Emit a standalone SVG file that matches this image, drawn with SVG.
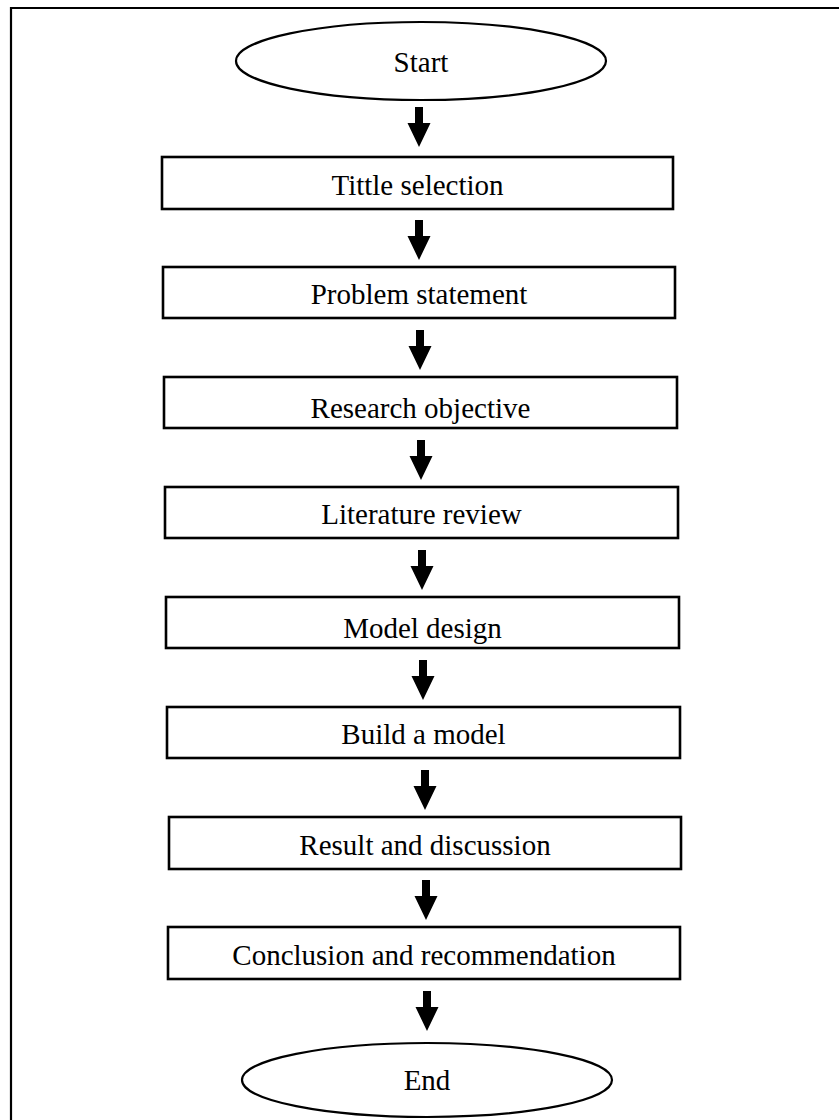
<svg xmlns="http://www.w3.org/2000/svg" width="839" height="1120" viewBox="0 0 839 1120">
<style>
.n{fill:#fff;stroke:#000;stroke-width:2.6}
.e{fill:#fff;stroke:#000;stroke-width:2.2}
.t{font-family:"Liberation Serif","Times New Roman",serif;font-size:29px;fill:#000;text-anchor:middle}
.a{fill:#000;stroke:none}
</style>
<defs>
<path id="arr" d="M-4,0 H4 V16 H11.5 L0,40 L-11.5,16 H-4 Z"/>
</defs>
<rect width="839" height="1120" fill="#fff"/>
<path d="M11,1120 V8 H839" fill="none" stroke="#000" stroke-width="2.2"/>
<g id="connectors">
<use href="#arr" class="a" x="419" y="107"/>
<use href="#arr" class="a" x="419" y="220"/>
<use href="#arr" class="a" x="420" y="330"/>
<use href="#arr" class="a" x="421" y="440"/>
<use href="#arr" class="a" x="422" y="550"/>
<use href="#arr" class="a" x="423" y="660"/>
<use href="#arr" class="a" x="425" y="770"/>
<use href="#arr" class="a" x="426" y="880"/>
<use href="#arr" class="a" x="427" y="991"/>
</g>
<g id="start"><ellipse class="e" cx="421" cy="61" rx="185" ry="39"/><text class="t" x="421" y="72">Start</text></g>
<g id="title"><rect class="n" x="162" y="157" width="511" height="52"/><text class="t" x="417.5" y="195">Tittle selection</text></g>
<g id="problem"><rect class="n" x="163" y="267" width="512" height="51"/><text class="t" x="419" y="304">Problem statement</text></g>
<g id="objective"><rect class="n" x="164" y="377" width="513" height="51"/><text class="t" x="420.5" y="418">Research objective</text></g>
<g id="literature"><rect class="n" x="165" y="487" width="513" height="51"/><text class="t" x="421.5" y="524">Literature review</text></g>
<g id="design"><rect class="n" x="166" y="597" width="513" height="51"/><text class="t" x="422.5" y="638">Model design</text></g>
<g id="build"><rect class="n" x="167" y="707" width="513" height="51"/><text class="t" x="423.5" y="744">Build a model</text></g>
<g id="result"><rect class="n" x="169" y="817" width="512" height="52"/><text class="t" x="425" y="855">Result and discussion</text></g>
<g id="conclusion"><rect class="n" x="168" y="927" width="512" height="52"/><text class="t" x="424" y="965">Conclusion and recommendation</text></g>
<g id="end"><ellipse class="e" cx="427" cy="1080" rx="185" ry="37"/><text class="t" x="427" y="1090">End</text></g>
</svg>
